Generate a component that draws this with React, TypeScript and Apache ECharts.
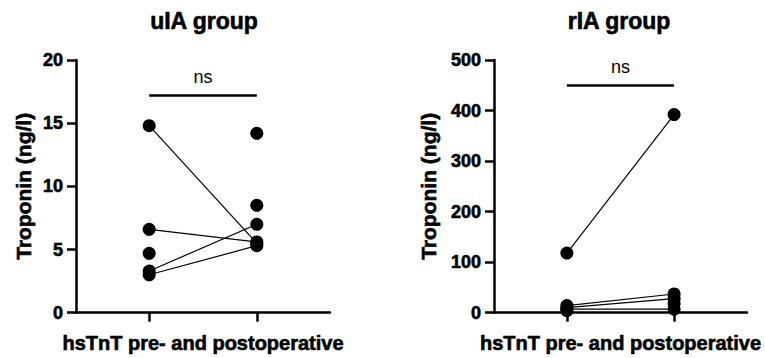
import React, { useEffect, useRef } from "react";
import * as echarts from "echarts";

const uiaPre = [14.8, 6.6, 4.7, 3.3, 3.0];
const uiaPost = [14.2, 8.5, 7.0, 5.6, 5.5, 5.3];
const uiaPairs = [
  [14.8, 5.5],
  [6.6, 5.6],
  [3.3, 7.0],
  [3.0, 5.3],
];
const riaPre = [118, 14, 10, 7, 4];
const riaPost = [392, 37, 28, 18, 7];
const riaPairs = [
  [118, 392],
  [14, 37],
  [10, 28],
  [7, 7],
];
const titles = ["uIA group", "rIA group"];
const yMax = [20, 500];
const yInterval = [5, 100];
const sigY = [17.2, 451];
const sigText = "ns";
const xName = "hsTnT pre- and postoperative";
const yName = "Troponin (ng/l)";

const FONT = "Liberation Sans, Arial, sans-serif";
const HEAVY = { textBorderColor: "#000", textBorderWidth: 0.6 };

export default function App() {
  const ref = useRef<HTMLDivElement>(null);
  useEffect(() => {
    document.body.style.margin = "0";
    const chart = echarts.init(ref.current!, null, { renderer: "svg" });
    const grids = [
      { left: 76, top: 60, width: 254, bottom: 44.7 },
      { left: 494, top: 60, width: 253, bottom: 44 },
    ];
    const axisCommonX = (i: number) => ({
      type: "value",
      gridIndex: i,
      min: 0.32,
      max: 2.68,
      splitLine: { show: false },
      axisLine: { show: true, lineStyle: { color: "#000", width: 2.5 } },
      axisTick: {
        show: true,
        customValues: [1, 2],
        length: 9,
        lineStyle: { color: "#000", width: 2.5 },
      },
      axisLabel: { show: false },
      name: xName,
      nameLocation: "middle",
      nameGap: 20,
      nameTextStyle: {
        fontFamily: FONT,
        fontWeight: "bold",
        fontSize: 20,
        color: "#000",
        verticalAlign: "top",
        ...HEAVY,
      },
    });
    const axisCommonY = (i: number) => ({
      type: "value",
      gridIndex: i,
      min: 0,
      max: yMax[i],
      interval: yInterval[i],
      splitLine: { show: false },
      axisLine: { show: true, lineStyle: { color: "#000", width: 2.5 } },
      axisTick: { show: true, length: 9, lineStyle: { color: "#000", width: 2.5 } },
      axisLabel: {
        fontFamily: FONT,
        fontWeight: "bold",
        fontSize: 18,
        color: "#000",
        margin: 13,
        ...HEAVY,
      },
      name: yName,
      nameLocation: "middle",
      nameRotate: 90,
      nameGap: i === 0 ? 42 : 55,
      nameTextStyle: {
        fontFamily: FONT,
        fontWeight: "bold",
        fontSize: 21,
        color: "#000",
        ...HEAVY,
      },
    });
    const series: any[] = [];
    const groups = [
      { pre: uiaPre, post: uiaPost, pairs: uiaPairs },
      { pre: riaPre, post: riaPost, pairs: riaPairs },
    ];
    groups.forEach((g, i) => {
      g.pairs.forEach((p) => {
        series.push({
          type: "line",
          xAxisIndex: i,
          yAxisIndex: i,
          data: [
            [1, p[0]],
            [2, p[1]],
          ],
          showSymbol: false,
          lineStyle: { color: "#000", width: 1.2 },
          z: 2,
          silent: true,
        });
      });
      series.push({
        type: "scatter",
        xAxisIndex: i,
        yAxisIndex: i,
        data: [...g.pre.map((v) => [1, v]), ...g.post.map((v) => [2, v])],
        symbolSize: 13,
        itemStyle: { color: "#000", opacity: 1 },
        z: 3,
        markLine: {
          silent: true,
          symbol: "none",
          lineStyle: { color: "#000", width: 2.5, type: "solid" },
          label: {
            show: true,
            position: "middle",
            formatter: sigText,
            fontFamily: FONT,
            fontSize: 18,
            color: "#000",
            distance: 9,
          },
          data: [[{ coord: [1, sigY[i]] }, { coord: [2, sigY[i]] }]],
        },
      });
    });
    const titleStyle = {
      fontFamily: FONT,
      fontWeight: "bold",
      fontSize: 23,
      fill: "#000",
      stroke: "#000",
      lineWidth: 0.6,
      textAlign: "center",
    };
    chart.setOption({
      animation: false,
      backgroundColor: "#fff",
      grid: grids,
      xAxis: [axisCommonX(0), axisCommonX(1)],
      yAxis: [axisCommonY(0), axisCommonY(1)],
      graphic: [
        {
          type: "text",
          x: 204,
          y: 9,
          style: { ...titleStyle, text: titles[0] },
        },
        {
          type: "text",
          x: 619,
          y: 9,
          style: { ...titleStyle, text: titles[1] },
        },
      ],
      series,
    });
    return () => chart.dispose();
  }, []);
  return <div ref={ref} style={{ width: 765, height: 358 }} />;
}
